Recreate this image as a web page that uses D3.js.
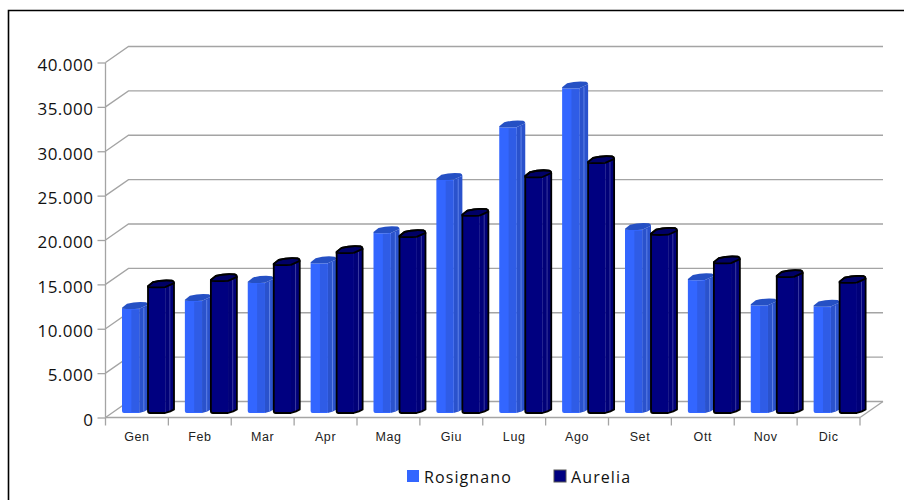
<!DOCTYPE html>
<html><head><meta charset="utf-8">
<script src="https://cdn.jsdelivr.net/npm/d3@7"></script>
<style>html,body{margin:0;padding:0;background:#fff}svg{display:block}</style>
</head><body><svg id="c" width="904" height="500"></svg>
<script>
const categories=["Gen","Feb","Mar","Apr","Mag","Giu","Lug","Ago","Set","Ott","Nov","Dic"];
const seriesNames=["Rosignano","Aurelia"];
const rosignano=[11850,12750,14800,17000,20400,26400,32300,36700,20750,15100,12250,12100];
const aurelia=[14300,15000,16800,18150,19950,22350,26700,28300,20200,17000,15450,14800];
const yTicks=[0,5000,10000,15000,20000,25000,30000,35000,40000];
const seriesValues=[rosignano,aurelia];
const fills=[{front:"#3366ff",mid:"#2f5ce6",side:"#2a52cc",top:"#2550c4",line:"#6d8ff0",stroke:"none"},
             {front:"#000080",mid:"#000080",side:"#000078",top:"#000066",line:"#4a4aa8",stroke:"#000"}];
const svg=d3.select("#c");
const gridC="#a4a4a4";
const dx=23,dy=16;
const y=d3.scaleLinear().domain([0,40000]).range([417.5,62.5]);
const x=d3.scaleBand().domain(categories).range([105.5,860]);
const s=d3.scaleBand().domain(seriesNames).range([16.5,68.5]);
const fmt=d3.formatLocale({decimal:",",thousands:".",grouping:[3],currency:["","€"]}).format(",d");

// frame
svg.append("path").attr("d","M8.5,500V10.5H904").attr("fill","none").attr("stroke","#000").attr("stroke-width",1.6);

// grid
const g=svg.append("g").attr("fill","none").attr("stroke",gridC).attr("stroke-width",1.3);
yTicks.forEach(t=>{
  g.append("path").attr("d",`M${x.range()[0]},${y(t)}L${x.range()[0]+dx},${y(t)-dy}H${x.range()[1]+dx}`);
});
g.append("path").attr("d",`M${x.range()[1]},${y(0)}L${x.range()[1]+dx},${y(0)-dy}`);

// axes
const ya=d3.axisLeft(y).tickValues(yTicks).tickFormat(fmt).tickSize(8).tickPadding(4);
const yg=svg.append("g").attr("transform",`translate(${x.range()[0]},0)`).call(ya);
yg.select(".domain").attr("stroke",gridC).attr("stroke-width",1.3).attr("d",`M0,${y(40000)}V${y(0)}`);
yg.selectAll("line").attr("stroke",gridC).attr("stroke-width",1.3);
yg.selectAll("text").attr("font-family","'Open Sans'").attr("font-size",17).attr("letter-spacing",0.5).attr("fill","#111").attr("dy","0.46em");

const xg=svg.append("g").attr("transform",`translate(0,${y(0)})`).call(
  d3.axisBottom(x).tickSize(0).tickPadding(15));
xg.select(".domain").attr("stroke",gridC).attr("stroke-width",1.3).attr("d",`M${x.range()[0]},0H${x.range()[1]}`);
xg.selectAll("text").attr("font-family","'Liberation Sans'").attr("font-size",12.5).attr("letter-spacing",0.6).attr("fill","#222");
const edges=categories.map(c=>x(c)).concat(x.range()[1]);
xg.selectAll("line.edge").data(edges).join("line").attr("class","edge")
  .attr("x1",d=>d).attr("x2",d=>d).attr("y1",0).attr("y2",8).attr("stroke",gridC).attr("stroke-width",1.3);

// bars
const baseY=413;
const yb=v=>baseY-(y(0)-y(v));
function bar(c,name,i,v){
  const x0=x(c)+s(name), w=s.bandwidth(), f=fills[i], top=yb(v);
  const x1=x0+w*0.66, x2=x0+w, xl=x0+w*0.84;
  const b=svg.append("g");
  const sw=i?1.8:0;
  const capPath=`M${x0},${top}L${x0+5},${top-4}Q${x0+14},${top-6.5} ${x2-2},${top-5.5}Q${x2},${top-5} ${x2},${top-3}L${x1},${top+1}Q${x1-9},${top+1.5} ${x0},${top+1}Z`;
  const outline=`M${x0},${top}L${x0+5},${top-4}Q${x0+14},${top-6.5} ${x2-2},${top-5.5}Q${x2},${top-5} ${x2},${top-3}V${baseY-3.5}Q${x2-3},${baseY-1.5} ${x1},${baseY}H${x0+2}Q${x0},${baseY} ${x0},${baseY-2}Z`;
  // side
  b.append("path").attr("d",`M${x1},${top+1}L${x2},${top-3}V${baseY-3.5}Q${x2-3},${baseY-1.5} ${x1},${baseY}Z`).attr("fill",f.side);
  // front
  b.append("path").attr("d",`M${x0},${top+1}Q${x0+9},${top+1.5} ${x1},${top+1}V${baseY}H${x0+2}Q${x0},${baseY} ${x0},${baseY-2}Z`).attr("fill",f.front);
  // facet band and highlight
  b.append("rect").attr("x",x0+w*0.36).attr("y",top+2).attr("width",x1-x0-w*0.36).attr("height",baseY-top-3).attr("fill",f.mid);
  b.append("line").attr("x1",xl).attr("x2",xl).attr("y1",top).attr("y2",baseY-2).attr("stroke",f.line).attr("stroke-width",0.8);
  // cap
  b.append("path").attr("d",capPath).attr("fill",f.top).attr("stroke",f.stroke).attr("stroke-width",sw).attr("stroke-linejoin","round");
  if(i) b.append("path").attr("d",outline).attr("fill","none").attr("stroke",f.stroke).attr("stroke-width",sw).attr("stroke-linejoin","round");
}
categories.forEach((c,k)=>seriesNames.forEach((n,i)=>bar(c,n,i,seriesValues[i][k])));

// legend
const lx=d3.scalePoint().domain(seriesNames).range([407,554]);
seriesNames.forEach((n,i)=>{
  svg.append("rect").attr("x",lx(n)).attr("y",470).attr("width",12).attr("height",12)
    .attr("fill",fills[i].front).attr("stroke",i?"#555":"none").attr("stroke-width",i?1:0);
  svg.append("text").attr("x",lx(n)+17).attr("y",482.5).text(n)
    .attr("font-family","'Open Sans'").attr("font-size",16).attr("letter-spacing",1.1).attr("fill","#111");
});
</script></body></html>
